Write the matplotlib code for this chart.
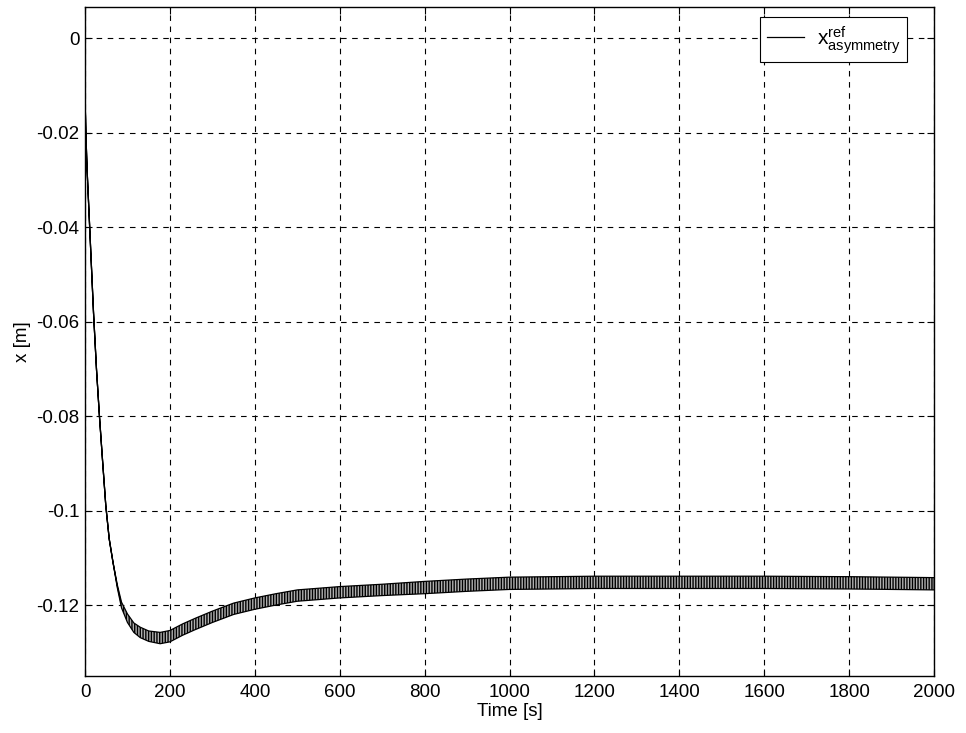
import matplotlib
matplotlib.use("Agg")
import matplotlib.pyplot as plt
import numpy as np

# values (time in s, position in m)
time_s = [0, 2, 5, 10, 15, 20, 27, 34, 41, 49, 57, 66, 76, 86, 100, 115, 130,
          150, 177, 200, 230, 260, 300, 350, 400, 450, 500, 600, 700, 800,
          900, 1000, 1200, 1400, 1600, 1800, 2000]
x_centre = [-0.012, -0.020, -0.028, -0.038, -0.048, -0.058, -0.070, -0.080,
            -0.089, -0.099, -0.106, -0.111, -0.116, -0.120, -0.1228, -0.1248,
            -0.1258, -0.1266, -0.1270, -0.1266, -0.1252, -0.1240, -0.1225,
            -0.1208, -0.1197, -0.1188, -0.1180, -0.1173, -0.1168, -0.1163,
            -0.1158, -0.1154, -0.1152, -0.1152, -0.1152, -0.1153, -0.1155]
# half height of the oscillation band
x_halfband = [0, 0, 0, 0, 0, 0, 0, 0, 0, 0, 0, 0, 0.0003, 0.0006, 0.0009,
              0.0010, 0.0011, 0.0011, 0.0012, 0.0012, 0.0012, 0.0012, 0.0012,
              0.0012, 0.0012, 0.0012, 0.0012, 0.0012, 0.0012, 0.0013, 0.0013,
              0.0013, 0.0013, 0.0013, 0.0013, 0.0013, 0.0013]

x_ticks = [0, 200, 400, 600, 800, 1000, 1200, 1400, 1600, 1800, 2000]
y_ticks = [0, -0.02, -0.04, -0.06, -0.08, -0.1, -0.12]
y_ticklabels = ["0", "-0.02", "-0.04", "-0.06", "-0.08", "-0.1", "-0.12"]

plt.rcParams["font.family"] = ["Liberation Sans", "DejaVu Sans"]
plt.rcParams["hatch.linewidth"] = 1.0

fig = plt.figure(figsize=(9.66, 7.33), dpi=100)
ax = fig.add_axes([0.088, 0.078, 0.879, 0.912])

centre = np.array(x_centre)
half = np.array(x_halfband)
ax.plot(time_s, x_centre, color="black", linewidth=0.9,
        label=r"$\mathregular{x^{ref}_{asymmetry}}$", zorder=3)
ax.fill_between(time_s, centre - half, centre + half, facecolor="#b0b0b0",
                edgecolor="black", hatch="||||||", linewidth=0.9, zorder=4)

ax.set_xlim(0, 2000)
ax.set_ylim(-0.135, 0.0066)
ax.set_xticks(x_ticks)
ax.set_xticklabels([str(v) for v in x_ticks])
ax.set_yticks(y_ticks)
ax.set_yticklabels(y_ticklabels)
ax.tick_params(direction="in", top=True, right=True, labelsize=13.5, length=5)
ax.tick_params(axis="x", pad=6)
ax.tick_params(axis="y", pad=4)

ax.grid(True, color="black", linestyle=(0, (5, 5)), linewidth=0.8)
for s in ax.spines.values():
    s.set_linewidth(1.0)

ax.set_xlabel("Time [s]", fontsize=13.5, labelpad=1)
ax.set_ylabel("x [m]", fontsize=13.5, labelpad=4)

leg = ax.legend(loc="upper right", bbox_to_anchor=(0.968, 0.985),
                borderaxespad=0, fancybox=False, edgecolor="black",
                framealpha=1, fontsize=15, handlelength=1.8,
                handletextpad=0.6, borderpad=0.3)
leg.get_frame().set_linewidth(0.8)

fig.savefig("out.png", dpi=100)
